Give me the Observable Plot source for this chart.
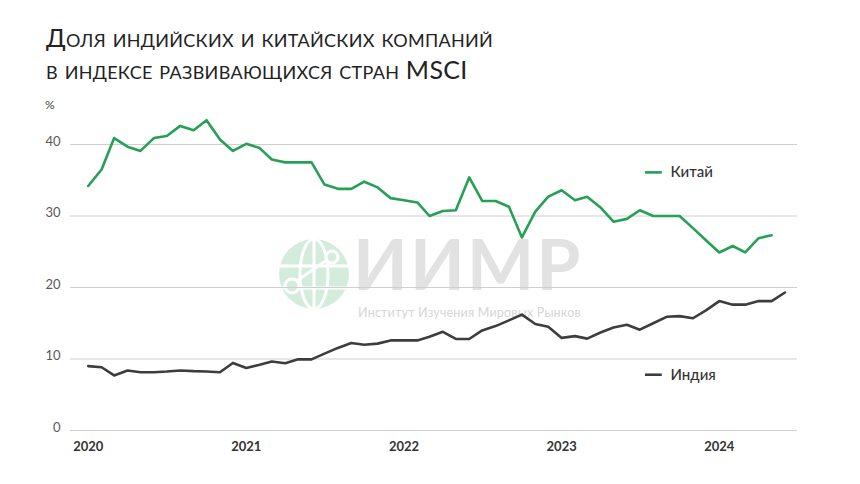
<!DOCTYPE html>
<html>
<head>
<meta charset="utf-8">
<script src="https://cdn.jsdelivr.net/npm/d3@7"></script>
<script src="https://cdn.jsdelivr.net/npm/@observablehq/plot@0.6"></script>
<style>
  body { margin: 0; background: #fff; }
  #wrap { position: relative; width: 860px; height: 484px; overflow: hidden; font-family: Lato, "Open Sans", sans-serif; }
  #title { position: absolute; left: 46px; top: 21px; font-size: 25px; line-height: 32px; color: #222; font-variant: small-caps; font-weight: 400; white-space: nowrap; letter-spacing: 0.3px; }
  #unit { position: absolute; left: 45px; top: 97px; font-size: 12px; color: #444; }
  #wm { position: absolute; left: 0; top: 0; width: 860px; height: 484px; }
  #wmText { position: absolute; left: 353px; top: 235px; font-size: 71px; font-weight: 700; color: #e2e2e2; line-height: 56px; letter-spacing: 2.3px; }
  #wmSub { position: absolute; left: 358px; top: 305px; font-size: 12.5px; color: #d6d6d6; letter-spacing: 0.2px; white-space: nowrap; }
  #chart { position: absolute; left: 0; top: 0; }
</style>
</head>
<body>
<div id="wrap">
  <div id="wm">
    <svg width="860" height="484" style="position:absolute;left:0;top:0">
      <g transform="translate(314,274)">
        <circle r="35" fill="#d4ecdc"/>
        <g fill="none" stroke="#fff" stroke-width="3">
          <ellipse rx="14" ry="35"/>
          <line x1="0" y1="-35" x2="0" y2="35"/>
          <line x1="-35" y1="-8" x2="35" y2="-8"/>
          <line x1="-32" y1="14" x2="32" y2="14"/>
          <line x1="-22" y1="10" x2="16" y2="-16"/>
        </g>
        <circle cx="-22" cy="12" r="7" fill="#d4ecdc" stroke="#fff" stroke-width="3"/>
        <circle cx="18" cy="-17" r="6" fill="#d4ecdc" stroke="#fff" stroke-width="3"/>
      </g>
    </svg>
    <div id="wmText">ИИМР</div>
    <div id="wmSub">Институт Изучения Мировых Рынков</div>
  </div>
  <div id="chart"></div>
  <div id="title">Доля индийских и китайских компаний<br>в индексе развивающихся стран MSCI</div>
  <div id="unit">%</div>
</div>
<script>
// Monthly observations, first month of each series
const startMonth = "2020-01-01";

// China share of MSCI EM index, %, Jan 2020 – May 2024
const chinaValues = [
  34.2, 36.5, 40.9, 39.7, 39.1, 40.9, 41.2, 42.6, 42.0, 43.4, 40.7, 39.1,
  40.1, 39.5, 37.9, 37.5, 37.5, 37.5, 34.4, 33.8, 33.8, 34.8, 34.0, 32.5,
  32.2, 31.9, 30.0, 30.7, 30.8, 35.4, 32.1, 32.1, 31.3, 27.0, 30.6, 32.7,
  33.6, 32.2, 32.7, 31.2, 29.2, 29.6, 30.8, 30.0, 30.0, 30.0, 28.3, 26.6,
  24.9, 25.8, 24.9, 26.9, 27.3
];

// India share of MSCI EM index, %, Jan 2020 – Jun 2024
const indiaValues = [
  9.0, 8.85, 7.7, 8.4, 8.15, 8.15, 8.25, 8.4, 8.3, 8.25, 8.15, 9.45,
  8.75, 9.2, 9.65, 9.4, 9.95, 9.95, 10.75, 11.55, 12.25, 12.0, 12.15, 12.6,
  12.6, 12.6, 13.1, 13.8, 12.8, 12.8, 14.0, 14.6, 15.4, 16.2, 14.9, 14.5,
  12.95, 13.2, 12.85, 13.7, 14.4, 14.8, 14.1, 15.0, 15.9, 16.0, 15.7, 16.8,
  18.1, 17.6, 17.6, 18.1, 18.1, 19.3
];

const seriesNames = ["Китай", "Индия"];
const seriesColors = ["#26a055", "#3d3d3d"];
const yTicks = [0, 10, 20, 30, 40];
const xTickYears = ["2020-01-01", "2021-01-01", "2022-01-01", "2023-01-01", "2024-01-01"];
const xDomain = ["2019-11-21", "2024-06-30"];

// Inline series labels: dash from / to, label date, level
const labelDashStart = ["2023-07-14", "2023-07-14"];
const labelDashEnd = ["2023-08-22", "2023-08-22"];
const labelTextDate = ["2023-09-10", "2023-09-10"];
const labelLevel = [36.1, 7.8];

const start = new Date(startMonth);
const monthAt = i => d3.utcMonth.offset(start, i);
const rows = [
  ...chinaValues.map((v, i) => ({series: seriesNames[0], date: monthAt(i), value: v})),
  ...indiaValues.map((v, i) => ({series: seriesNames[1], date: monthAt(i), value: v}))
];
const labels = seriesNames.map((s, i) => ({
  series: s,
  x1: new Date(labelDashStart[i]),
  x2: new Date(labelDashEnd[i]),
  xt: new Date(labelTextDate[i]),
  y: labelLevel[i]
}));

const chart = Plot.plot({
  width: 860,
  height: 484,
  marginLeft: 70,
  marginRight: 63,
  marginTop: 144,
  marginBottom: 54,
  style: {background: "transparent", fontFamily: "Lato, 'Open Sans', sans-serif", overflow: "visible"},
  x: {type: "utc", domain: xDomain.map(d => new Date(d))},
  y: {domain: [0, 40]},
  color: {domain: seriesNames, range: seriesColors},
  marks: [
    Plot.gridY(yTicks, {stroke: "#cfcfcf", strokeOpacity: 1, strokeWidth: 1}),
    Plot.axisY(yTicks, {tickSize: 0, tickPadding: 10, fontSize: 13, fill: "#5a5a5a", dy: -3, label: null}),
    Plot.axisX(xTickYears.map(d => new Date(d)), {tickSize: 0, tickPadding: 11, fontSize: 13, fontWeight: 700, fill: "#333", tickFormat: d3.utcFormat("%Y"), label: null}),
    Plot.line(rows, {x: "date", y: "value", z: "series", stroke: "series", strokeWidth: 2.6, strokeLinejoin: "round", strokeLinecap: "round"}),
    Plot.ruleY(labels, {y: "y", x1: "x1", x2: "x2", stroke: "series", strokeWidth: 2.6}),
    Plot.text(labels, {x: "xt", y: "y", text: "series", textAnchor: "start", fontSize: 15, fill: "#333", fontWeight: 500})
  ]
});
document.getElementById("chart").appendChild(chart);
</script>
</body>
</html>
